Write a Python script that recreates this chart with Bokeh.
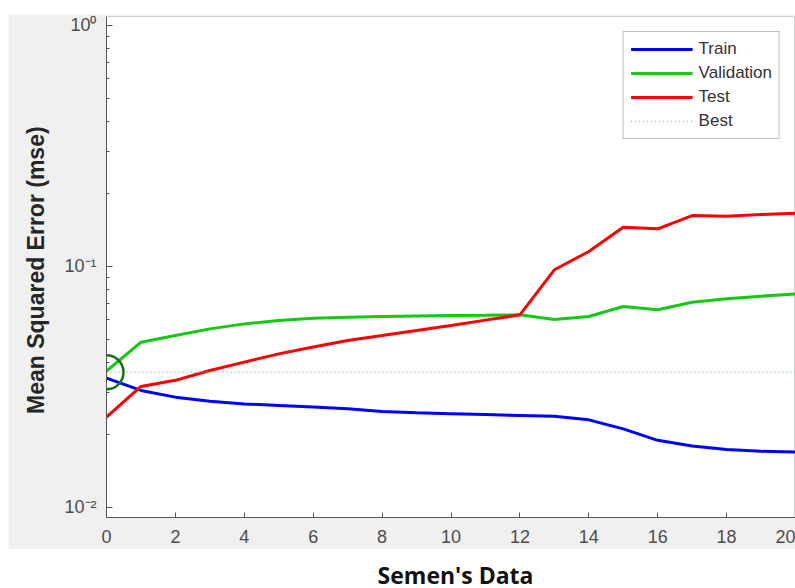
from bokeh.plotting import figure
from bokeh.models import (Range1d, FixedTicker, CustomJSTickFormatter, Legend,
                          LegendItem, Spacer, Div)
from bokeh.layouts import column, row
from bokeh.embed import file_html
from bokeh.resources import INLINE

# ---- data ----
epochs = list(range(21))
train = [0.0344, 0.0306, 0.0287, 0.0276, 0.0269, 0.0265, 0.0261, 0.0257, 0.0250,
         0.0247, 0.0245, 0.0243, 0.0241, 0.0239, 0.0231, 0.0212, 0.0190, 0.0180,
         0.0174, 0.0171, 0.0170]
validation = [0.0368, 0.0485, 0.0517, 0.0551, 0.0578, 0.0597, 0.0610, 0.0616, 0.0620,
              0.0623, 0.0626, 0.0627, 0.0630, 0.0603, 0.0620, 0.0682, 0.0661, 0.0711,
              0.0735, 0.0753, 0.0770]
test = [0.0237, 0.0318, 0.0337, 0.0370, 0.0401, 0.0434, 0.0463, 0.0493, 0.0517,
        0.0543, 0.0569, 0.0599, 0.0630, 0.0969, 0.1154, 0.1456, 0.1433, 0.1627,
        0.1617, 0.1643, 0.1664]
best_epoch = 0
best_value = 0.0364

x_ticks = list(range(0, 21, 2))
y_ticks = [0.01, 0.1, 1.0]
y_tick_labels = ["10\u207b\u00b2", "10\u207b\u00b9", "10\u2070"]
y_minor = [k * 10.0 ** e for e in (-3, -2, -1, 0) for k in range(2, 10)]
series_names = ["Train", "Validation", "Test", "Best"]
y_label = "Mean Squared Error  (mse)"
title_text = "Semen's Data"

GRAY_BG = "#f0f0f0"
TICK_COLOR = "#4d4d4d"

p = figure(width=787, height=535,
           x_range=Range1d(0, 20),
           y_range=Range1d(10 ** -2.0415, 10 ** 0.0373),
           y_axis_type="log",
           output_backend="svg", toolbar_location=None,
           min_border_left=98, min_border_right=0,
           min_border_top=2, min_border_bottom=32,
           background_fill_color="white", border_fill_color=GRAY_BG,
           outline_line_color="#d0d0d0")
p.grid.visible = False

# x axis
xa = p.xaxis[0]
xa.ticker = FixedTicker(ticks=x_ticks)
xa.major_tick_in = 5
xa.major_tick_out = 0
xa.minor_tick_in = 0
xa.minor_tick_out = 0
xa.axis_line_color = "#555555"
xa.major_tick_line_color = "#555555"
xa.major_label_text_font = "Liberation Sans"
xa.major_label_text_font_size = "18px"
xa.major_label_text_color = TICK_COLOR
xa.major_label_standoff = 12

# y axis
ya = p.yaxis[0]
ya.ticker = FixedTicker(ticks=y_ticks, minor_ticks=y_minor)
ya.formatter = CustomJSTickFormatter(args=dict(vals=y_ticks, labs=y_tick_labels), code="""
    for (let i = 0; i < vals.length; i++) {
        if (Math.abs(Math.log10(vals[i]) - Math.log10(tick)) < 1e-6) return labs[i];
    }
    return '';
""")
ya.major_tick_in = 6
ya.major_tick_out = 0
ya.minor_tick_in = 3
ya.minor_tick_out = 0
ya.axis_line_color = "#555555"
ya.major_tick_line_color = "#555555"
ya.minor_tick_line_color = "#555555"
ya.major_label_text_font = "Liberation Sans"
ya.major_label_text_font_size = "18px"
ya.major_label_text_color = TICK_COLOR
ya.major_label_standoff = 10
ya.axis_label = y_label
ya.axis_label_text_font = "Liberation Sans"
ya.axis_label_text_font_style = "bold"
ya.axis_label_text_font_size = "23px"
ya.axis_label_text_color = "#262626"
ya.axis_label_standoff = 12

# lines
r_train = p.line(epochs, train, line_color="#0000ff", line_width=3)
r_val = p.line(epochs, validation, line_color="#14c814", line_width=3)
r_test = p.line(epochs, test, line_color="#ff0000", line_width=3)
r_best = p.line([epochs[0], epochs[-1]], [best_value, best_value],
                line_color="#8fbf8f", line_width=1.5, line_dash="1 3")
p.scatter([best_epoch], [best_value], size=34, marker="circle",
          fill_color=None, line_color="#1a731a", line_width=2.5)

legend = Legend(items=[LegendItem(label=n, renderers=[r]) for n, r in
                       zip(series_names, [r_train, r_val, r_test, r_best])],
                location="top_right", margin=15, padding=7, spacing=4,
                glyph_width=62, glyph_height=20, label_height=20,
                label_standoff=6,
                label_text_font="Liberation Sans", label_text_font_size="17px",
                label_text_color="#333333",
                border_line_color="#808080", border_line_width=1,
                background_fill_color="white", background_fill_alpha=1.0)
p.add_layout(legend)

title_div = Div(text=title_text, width=689, height=34,
                styles={"font-family": "Open Sans", "font-weight": "bold",
                        "font-size": "23px", "line-height": "34px",
                        "color": "#111111", "text-align": "center"})

layout = column(Spacer(height=14),
                row(Spacer(width=8), p),
                Spacer(height=4),
                row(Spacer(width=106), title_div))

open("out.html", "w").write(file_html(layout, INLINE))
